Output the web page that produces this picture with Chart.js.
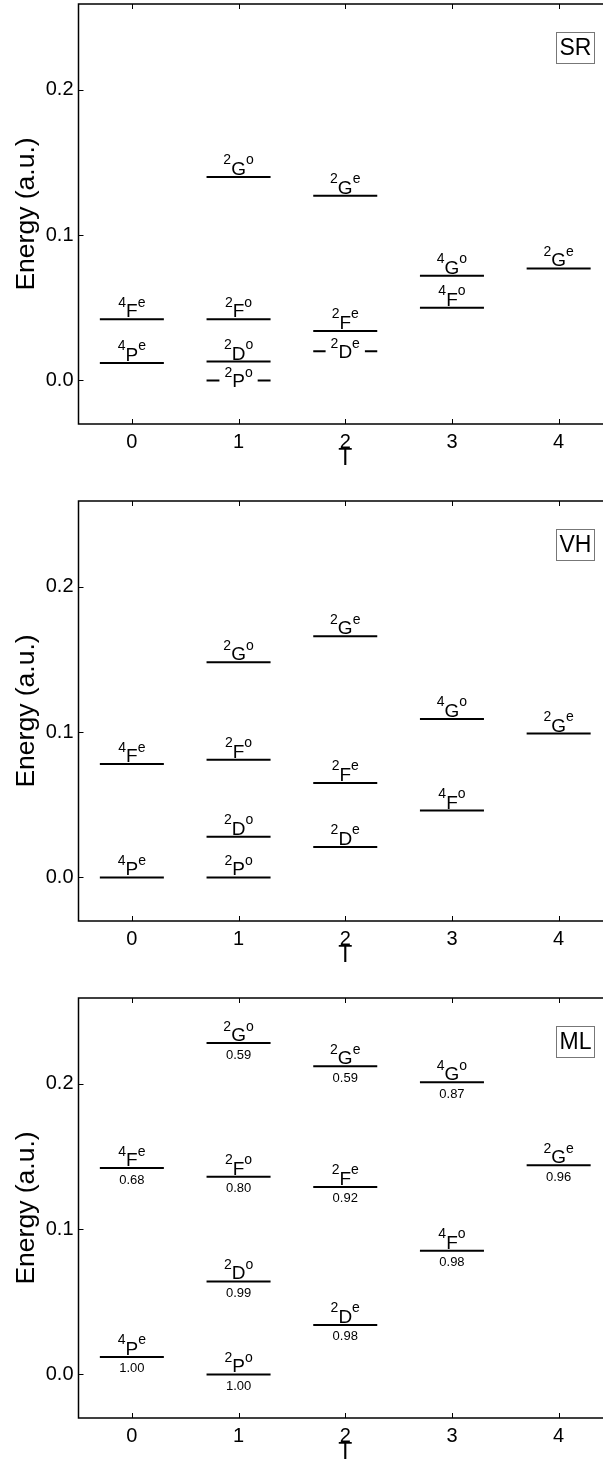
<!DOCTYPE html>
<html>
<head>
<meta charset="utf-8">
<script src="https://cdn.jsdelivr.net/npm/chart.js@4.4.1/dist/chart.umd.min.js"></script>
<style>
    html, body { margin: 0; padding: 0; background: #fff; overflow: hidden; }
    body { width: 603px; height: 1467px; position: relative; }
    canvas { position: absolute; left: 0; }
</style>
</head>
<body>
<canvas id="panelSR" width="640" height="497" style="top:0px"></canvas>
<canvas id="panelVH" width="640" height="497" style="top:497px"></canvas>
<canvas id="panelML" width="640" height="497" style="top:994px"></canvas>
<script>
// term symbols: multiplicity, L letter, parity (e/o)
const terms = ['4Pe', '4Fe', '2Po', '2Do', '2Fo', '2Go', '2De', '2Fe', '2Ge', '4Fo', '4Go', '2Ge'];
const termT = [0, 0, 1, 1, 1, 1, 2, 2, 2, 3, 3, 4];

const energySR = [0.012, 0.042, 0.000, 0.013, 0.042, 0.140, 0.020, 0.034, 0.127, 0.050, 0.072, 0.077];
const energyVH = [0.000, 0.078, 0.000, 0.028, 0.081, 0.148, 0.021, 0.065, 0.166, 0.046, 0.109, 0.099];
const energyML = [0.012, 0.142, 0.000, 0.064, 0.136, 0.228, 0.034, 0.129, 0.212, 0.085, 0.201, 0.144];
const weightML = [1.00, 0.68, 1.00, 0.99, 0.80, 0.59, 0.98, 0.92, 0.59, 0.98, 0.87, 0.96];

const xTicks = [0, 1, 2, 3, 4];
const yTicks = [0.0, 0.1, 0.2];

const FONT = "'Liberation Sans', Arial, Helvetica, sans-serif";
const HALF_WIDTH = 0.3;   // half length of a level bar in T units

function levelSegments(energies)
{
    const pts = [];
    for (let i = 0; i < energies.length; i++)
    {
        pts.push({ x: termT[i] - HALF_WIDTH, y: energies[i] });
        pts.push({ x: termT[i] + HALF_WIDTH, y: energies[i] });
        pts.push({ x: termT[i], y: null });
    }
    return pts;
}

// box + inward tick marks, matlab style
const framePlugin =
{
    id: 'frame',
    beforeDatasetsDraw(chart)
    {
        const { ctx, chartArea: a, scales } = chart;
        ctx.save();
        ctx.strokeStyle = '#000';
        ctx.lineWidth = 1.5;
        ctx.strokeRect(a.left, a.top, a.right - a.left, a.bottom - a.top);

        ctx.lineWidth = 1;
        const len = 5;
        ctx.beginPath();
        for (const t of xTicks)
        {
            const px = Math.round(scales.x.getPixelForValue(t)) + 0.5;
            ctx.moveTo(px, a.bottom); ctx.lineTo(px, a.bottom - len);
            ctx.moveTo(px, a.top); ctx.lineTo(px, a.top + len);
        }
        for (const t of yTicks)
        {
            const py = Math.round(scales.y.getPixelForValue(t)) + 0.5;
            ctx.moveTo(a.left, py); ctx.lineTo(a.left + len, py);
            ctx.moveTo(a.right, py); ctx.lineTo(a.right - len, py);
        }
        ctx.stroke();
        ctx.restore();
    }
};

function drawTerm(ctx, term, cx, y, inline)
{
    const supFont = '14px ' + FONT;
    const mainFont = '19px ' + FONT;
    const pre = term[0], letter = term[1], parity = term[2];

    ctx.font = supFont;
    const w1 = ctx.measureText(pre).width;
    const w3 = ctx.measureText(parity).width;
    ctx.font = mainFont;
    const w2 = ctx.measureText(letter).width;
    const total = w1 + w2 + w3;
    let x = cx - total / 2;

    let base = y - 2;
    if (inline)
    {
        base = y + 7;
        ctx.fillStyle = '#fff';
        ctx.fillRect(x - 5, y - 4, total + 10, 8);
    }
    const raise = 10.5;

    ctx.fillStyle = '#000';
    ctx.textAlign = 'left';
    ctx.textBaseline = 'alphabetic';
    ctx.font = supFont;
    ctx.fillText(pre, x, base - raise);
    x += w1;
    ctx.font = mainFont;
    ctx.fillText(letter, x, base);
    x += w2;
    ctx.font = supFont;
    ctx.fillText(parity, x, base - raise);
}

const labelPlugin =
{
    id: 'termLabels',
    afterDatasetsDraw(chart, args, opts)
    {
        const { ctx, chartArea: a, scales } = chart;
        ctx.save();
        opts.energies.forEach((e, i) =>
        {
            const cx = scales.x.getPixelForValue(termT[i]);
            const py = scales.y.getPixelForValue(e);
            drawTerm(ctx, terms[i], cx, py, opts.inline.includes(i));
            if (opts.weights)
            {
                ctx.font = '13px ' + FONT;
                ctx.textAlign = 'center';
                ctx.textBaseline = 'alphabetic';
                ctx.fillStyle = '#000';
                ctx.fillText(opts.weights[i].toFixed(2), cx, py + 15.5);
            }
        });

        // panel tag in a grey box, top right
        const bw = 38, bh = 31;
        const bx = a.right - 18 - bw, by = a.top + 28;
        ctx.fillStyle = '#fff';
        ctx.fillRect(bx, by, bw, bh);
        ctx.strokeStyle = '#777';
        ctx.lineWidth = 1;
        ctx.strokeRect(bx + 0.5, by + 0.5, bw, bh);
        ctx.fillStyle = '#000';
        ctx.font = '23px ' + FONT;
        ctx.textAlign = 'center';
        ctx.textBaseline = 'middle';
        ctx.fillText(opts.tag, bx + bw / 2 + 0.5, by + bh / 2 + 1.5);
        ctx.restore();
    }
};

function makePanel(id, tag, energies, weights, inline)
{
    const config =
    {
        type: 'line',
        data:
        {
            datasets:
            [
                {
                    label: tag,
                    data: levelSegments(energies),
                    borderColor: '#000',
                    borderWidth: 2,
                    borderCapStyle: 'butt',
                    pointRadius: 0,
                    tension: 0,
                    spanGaps: false
                }
            ]
        },
        options:
        {
            responsive: false,
            animation: false,
            devicePixelRatio: 1,
            layout: { padding: { top: 4, right: 28, bottom: 0, left: 0 } },
            plugins:
            {
                legend: { display: false },
                tooltip: { enabled: false },
                termLabels: { energies: energies, weights: weights, inline: inline, tag: tag }
            },
            scales:
            {
                x:
                {
                    type: 'linear',
                    min: -0.5,
                    max: 4.5,
                    afterBuildTicks: s => { s.ticks = xTicks.map(v => ({ value: v })); },
                    afterFit: s => { s.height = 73; s.paddingLeft = 0; s.paddingRight = 0; },
                    grid: { display: false, drawTicks: false },
                    border: { display: false },
                    ticks: { color: '#000', padding: 6, font: { family: FONT, size: 20 } },
                    title:
                    {
                        display: true,
                        text: 'T',
                        color: '#000',
                        font: { family: FONT, size: 23 },
                        padding: { top: 0, bottom: 25 }
                    }
                },
                y:
                {
                    type: 'linear',
                    min: -0.03,
                    max: 0.259,
                    afterBuildTicks: s => { s.ticks = yTicks.map(v => ({ value: v })); },
                    afterFit: s => { s.width = 78.5; s.paddingTop = 0; s.paddingBottom = 0; },
                    grid: { display: false, drawTicks: false },
                    border: { display: false },
                    ticks: { color: '#000', padding: 5, font: { family: FONT, size: 20 }, callback: v => v.toFixed(1) },
                    title:
                    {
                        display: true,
                        text: 'Energy (a.u.)',
                        color: '#000',
                        font: { family: FONT, size: 26.5 },
                        padding: { top: 11, bottom: 0 }
                    }
                }
            }
        },
        plugins: [framePlugin, labelPlugin]
    };
    return new Chart(document.getElementById(id).getContext('2d'), config);
}

makePanel('panelSR', 'SR', energySR, null, [2, 6]);
makePanel('panelVH', 'VH', energyVH, null, []);
makePanel('panelML', 'ML', energyML, weightML, []);
</script>
</body>
</html>
